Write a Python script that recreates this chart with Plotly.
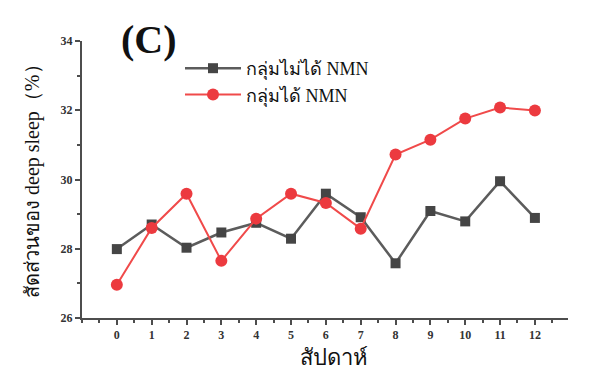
import plotly.graph_objects as go

weeks = list(range(13))
no_nmn = [27.99, 28.7, 28.03, 28.47, 28.75, 28.29, 29.59, 28.91, 27.58, 29.09, 28.79, 29.95, 28.89]
with_nmn = [26.96, 28.6, 29.59, 27.65, 28.87, 29.59, 29.32, 28.58, 30.72, 31.15, 31.76, 32.08, 31.99]
names = ["กลุ่มไม่ได้ NMN", "กลุ่มได้ NMN"]

serif = "Liberation Serif, Times New Roman, serif"

fig = go.Figure()
fig.add_trace(go.Scatter(x=weeks, y=no_nmn, name=names[0], mode="lines+markers",
                         line=dict(color="#5c5c5c", width=2.5),
                         marker=dict(symbol="square", size=10, color="#454545")))
fig.add_trace(go.Scatter(x=weeks, y=with_nmn, name=names[1], mode="lines+markers",
                         line=dict(color="#f04a4a", width=2),
                         marker=dict(symbol="circle", size=12, color="#ec3a3f")))

axis_common = dict(showline=True, linecolor="#4d4d4d", linewidth=2, ticks="outside",
                   tickcolor="#4d4d4d", tickwidth=1.5, ticklen=5, showgrid=False, zeroline=False,
                   automargin=False,
                   tickfont=dict(family=serif, size=12, color="#333333", weight="bold"))

# page body margin offset (browser default 8px)
OFF = 8
W, H = 600 - OFF, 385 - OFF
L, T = 82 - OFF, 41 - OFF
R = W - (568 - OFF)
B = H - (318 - OFF)
pw, ph = W - L - R, H - T - B

def px(x):
    return (x - OFF - L) / pw

def py(y):
    return (H - B - (y - OFF)) / ph

fig.update_layout(
    width=W, height=H,
    margin=dict(l=L, r=R, t=T, b=B),
    plot_bgcolor="white", paper_bgcolor="white",
    showlegend=True,
    legend=dict(x=px(180), y=py(50), xanchor="left", yanchor="top", bgcolor="rgba(0,0,0,0)",
                font=dict(family=serif, size=18, color="#111111"), tracegroupgap=0,
                itemwidth=56),
    xaxis=dict(range=[-1, 12.95], tickvals=weeks, ticktext=[str(w) for w in weeks],
               minor=dict(dtick=0.5, tick0=-0.5, ticks="outside", ticklen=3, tickcolor="#4d4d4d"),
               **axis_common),
    yaxis=dict(range=[26, 34], dtick=2, tick0=26,
               minor=dict(dtick=1, tick0=26, ticks="outside", ticklen=3, tickcolor="#4d4d4d"),
               **axis_common),
)

fig.add_annotation(x=px(334), y=py(357), xref="paper", yref="paper", text="สัปดาห์",
                   showarrow=False, xanchor="center", yanchor="middle",
                   font=dict(family=serif, size=22, color="#111111"))
fig.add_annotation(x=px(32), y=py(176), xref="paper", yref="paper", text="สัดส่วนของ deep sleep（%）",
                   showarrow=False, xanchor="center", yanchor="middle", textangle=-90,
                   font=dict(family=serif, size=20, color="#111111"))
fig.add_annotation(x=px(149), y=py(40), xref="paper", yref="paper", text="(C)", showarrow=False,
                   xanchor="center", yanchor="middle",
                   font=dict(family=serif, size=40, color="#111111", weight="bold"))

fig.write_html("out.html")
